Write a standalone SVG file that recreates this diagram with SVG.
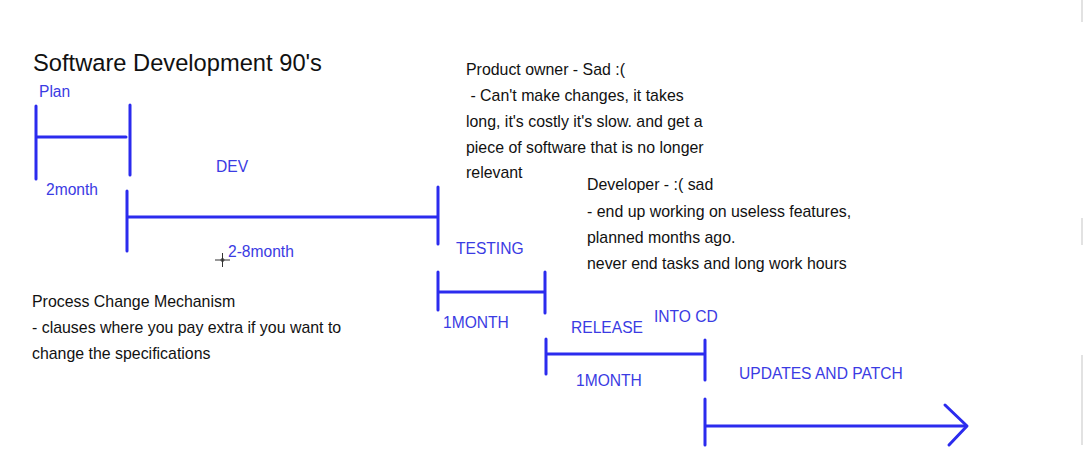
<svg xmlns="http://www.w3.org/2000/svg" width="1083" height="466" viewBox="0 0 1083 466">
  <style>
    .t { font-family: "Liberation Sans", Arial, sans-serif; fill: #111; font-size: 15.9px; }
    .title { font-family: "Liberation Sans", Arial, sans-serif; fill: #111; font-size: 23.7px; }
    .b { font-family: "Liberation Sans", Arial, sans-serif; fill: #3b3be3; font-size: 15.6px; }
    .bar { stroke: #2b2bee; stroke-width: 3; fill: none; stroke-linecap: round; stroke-linejoin: round; }
    .cur { stroke: #333; stroke-width: 1; fill: none; }
    .edge { stroke: #e2e2e2; stroke-width: 2; }
  </style>
  <rect width="1083" height="466" fill="#ffffff"/>
  <g id="edge-marks">
    <line class="edge" x1="1082" y1="0" x2="1082" y2="22"/>
    <line class="edge" x1="1082" y1="218" x2="1082" y2="245"/>
    <line class="edge" x1="1082" y1="355" x2="1082" y2="445"/>
  </g>
  <g id="title">
    <text class="title" x="33" y="71">Software Development 90's</text>
  </g>
  <g id="product-owner">
    <text class="t" x="466" y="75">Product owner - Sad :(</text>
    <text class="t" x="466" y="101" xml:space="preserve"> - Can't make changes, it takes</text>
    <text class="t" x="466" y="127">long, it's costly it's slow. and get a</text>
    <text class="t" x="466" y="153">piece of software that is no longer</text>
    <text class="t" x="466" y="178">relevant</text>
  </g>
  <g id="developer">
    <text class="t" x="587" y="190">Developer - :( sad</text>
    <text class="t" x="587" y="217">- end up working on useless features,</text>
    <text class="t" x="587" y="243">planned months ago.</text>
    <text class="t" x="587" y="269">never end tasks and long work hours</text>
  </g>
  <g id="process-change">
    <text class="t" x="32" y="307">Process Change Mechanism</text>
    <text class="t" x="32" y="333">- clauses where you pay extra if you want to</text>
    <text class="t" x="32" y="359">change the specifications</text>
  </g>
  <g id="plan">
    <text class="b" x="39" y="97">Plan</text>
    <text class="b" x="46" y="195">2month</text>
  </g>
  <g id="dev">
    <text class="b" x="216" y="172">DEV</text>
    <text class="b" x="228" y="257">2-8month</text>
  </g>
  <g id="testing">
    <text class="b" x="456" y="254">TESTING</text>
    <text class="b" x="443" y="328">1MONTH</text>
  </g>
  <g id="release">
    <text class="b" x="571" y="333">RELEASE</text>
    <text class="b" x="654" y="322">INTO CD</text>
    <text class="b" x="576" y="386">1MONTH</text>
  </g>
  <g id="updates">
    <text class="b" x="739" y="379">UPDATES AND PATCH</text>
  </g>
  <g id="connectors">
    <path class="bar" d="M36 106 V179 M36 137 H126 M130 105 V175"/>
    <path class="bar" d="M127 191 V251 M127 217 H438 M438 187 V244"/>
    <path class="bar" d="M438 272 V310 M438 292 H545 M545 272 V313"/>
    <path class="bar" d="M546 339 V374 M546 354 H705 M705 340 V380"/>
    <path class="bar" d="M705 399 V445 M705 426 H966"/>
    <path class="bar" d="M945 405 L967 426 L949 445"/>
  </g>
  <g id="cursor">
    <line class="cur" x1="215" y1="260" x2="230" y2="260"/>
    <line class="cur" x1="222.5" y1="253" x2="222.5" y2="267"/>
    <circle class="cur" cx="222.5" cy="260" r="1.5" fill="#fff"/>
  </g>
</svg>
